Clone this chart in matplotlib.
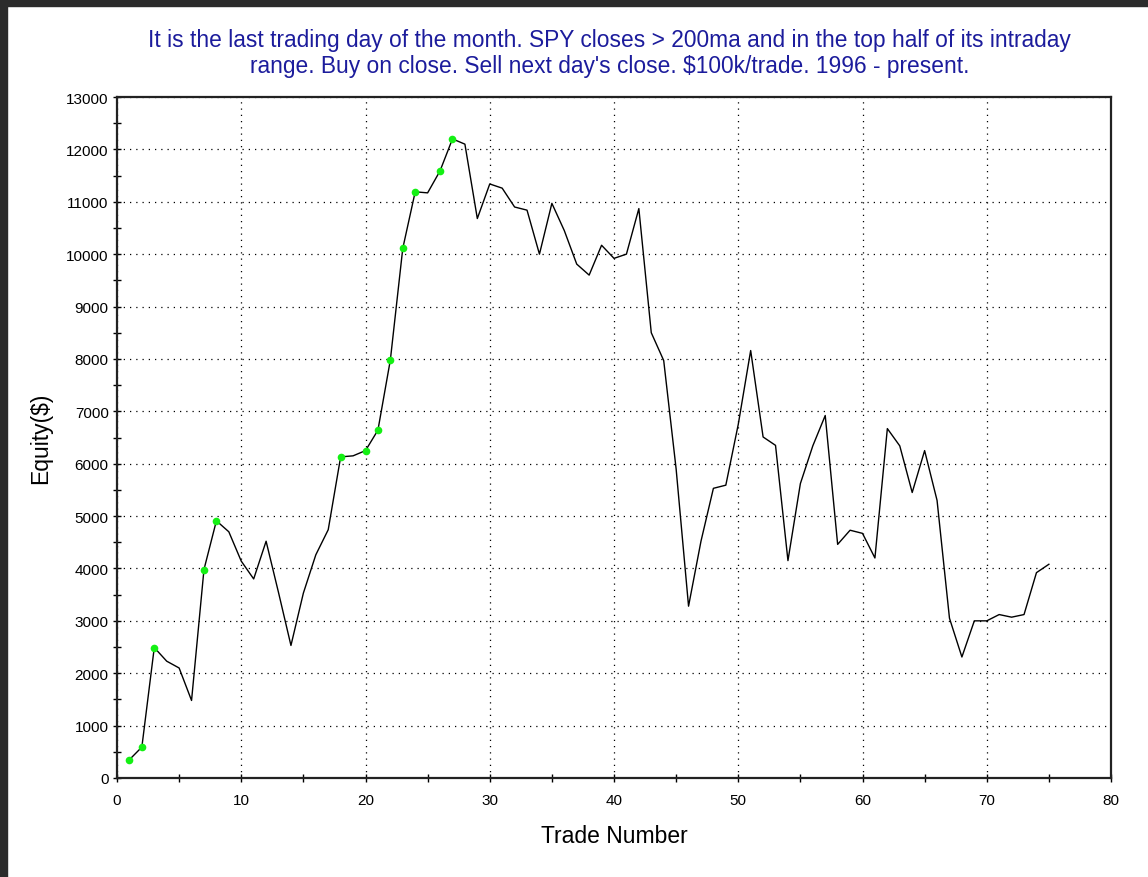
import matplotlib
matplotlib.use("Agg")
import matplotlib.pyplot as plt
from matplotlib.patches import Rectangle
from matplotlib.ticker import MultipleLocator

plt.rcParams['font.family'] = ['Liberation Sans', 'DejaVu Sans']

# ---- Data ----
trade_number = list(range(1, 76))
equity = [
    350, 590, 2490, 2230, 2100, 1480, 3980, 4910, 4700, 4140,
    3800, 4520, 3540, 2530, 3530, 4260, 4740, 6130, 6150, 6250,
    6640, 7980, 10110, 11190, 11170, 11590, 12200, 12100, 10680, 11340,
    11260, 10900, 10840, 10000, 10970, 10450, 9810, 9600, 10170, 9920,
    10000, 10870, 8500, 7970, 5900, 3280, 4520, 5530, 5590, 6750,
    8160, 6510, 6350, 4150, 5620, 6340, 6920, 4460, 4730, 4670,
    4200, 6670, 6340, 5450, 6250, 5300, 3050, 2310, 3000, 3000,
    3120, 3070, 3120, 3920, 4080,
]
# trades that set a new equity high (green dots)
new_high_trades = [1, 2, 3, 7, 8, 18, 20, 21, 22, 23, 24, 26, 27]

title = ("It is the last trading day of the month. SPY closes > 200ma and in the top half of its intraday\n"
         "range. Buy on close. Sell next day's close. $100k/trade. 1996 - present.")

# ---- Figure ----
fig = plt.figure(figsize=(11.48, 8.78), dpi=100)
fig.patch.set_facecolor("white")

# dark screenshot frame on left and top
fig.patches.append(Rectangle((0, 0), 7 / 1148, 1, transform=fig.transFigure,
                             color="#2b2b2b", zorder=0))
fig.patches.append(Rectangle((0, 1 - 7 / 878), 1, 7 / 878, transform=fig.transFigure,
                             color="#2b2b2b", zorder=0))

ax = fig.add_axes([117 / 1148, 1 - 779 / 878, (1111 - 117) / 1148, (779 - 98) / 878])

ax.plot(trade_number, equity, color="black", linewidth=1.0, zorder=3)
hi_y = [equity[t - 1] for t in new_high_trades]
ax.plot(new_high_trades, hi_y, linestyle="none", marker="o", markersize=5.5,
        color="#14f014", markeredgewidth=0, zorder=4)

ax.set_xlim(0, 80)
ax.set_ylim(0, 13000)
ax.xaxis.set_major_locator(MultipleLocator(10))
ax.xaxis.set_minor_locator(MultipleLocator(5))
ax.yaxis.set_major_locator(MultipleLocator(1000))
ax.yaxis.set_minor_locator(MultipleLocator(500))

ax.grid(True, which="major", linestyle=(0, (1, 4)), color="black", linewidth=0.9)
ax.tick_params(which="both", direction="inout", length=6, width=1, colors="black",
               labelsize=11)
ax.tick_params(axis="x", pad=8)
ax.tick_params(axis="y", pad=3)

for s in ax.spines.values():
    s.set_linewidth(1.6)
    s.set_color("#222222")

ax.set_xlabel("Trade Number", fontsize=16.5, labelpad=12)
ax.set_ylabel("Equity($)", fontsize=16.5, labelpad=10)

fig.text(0.531, 0.967, title, ha="center", va="top", fontsize=16.4,
         color="#1c1c9c", linespacing=1.15)

fig.savefig("out.png", dpi=100)
